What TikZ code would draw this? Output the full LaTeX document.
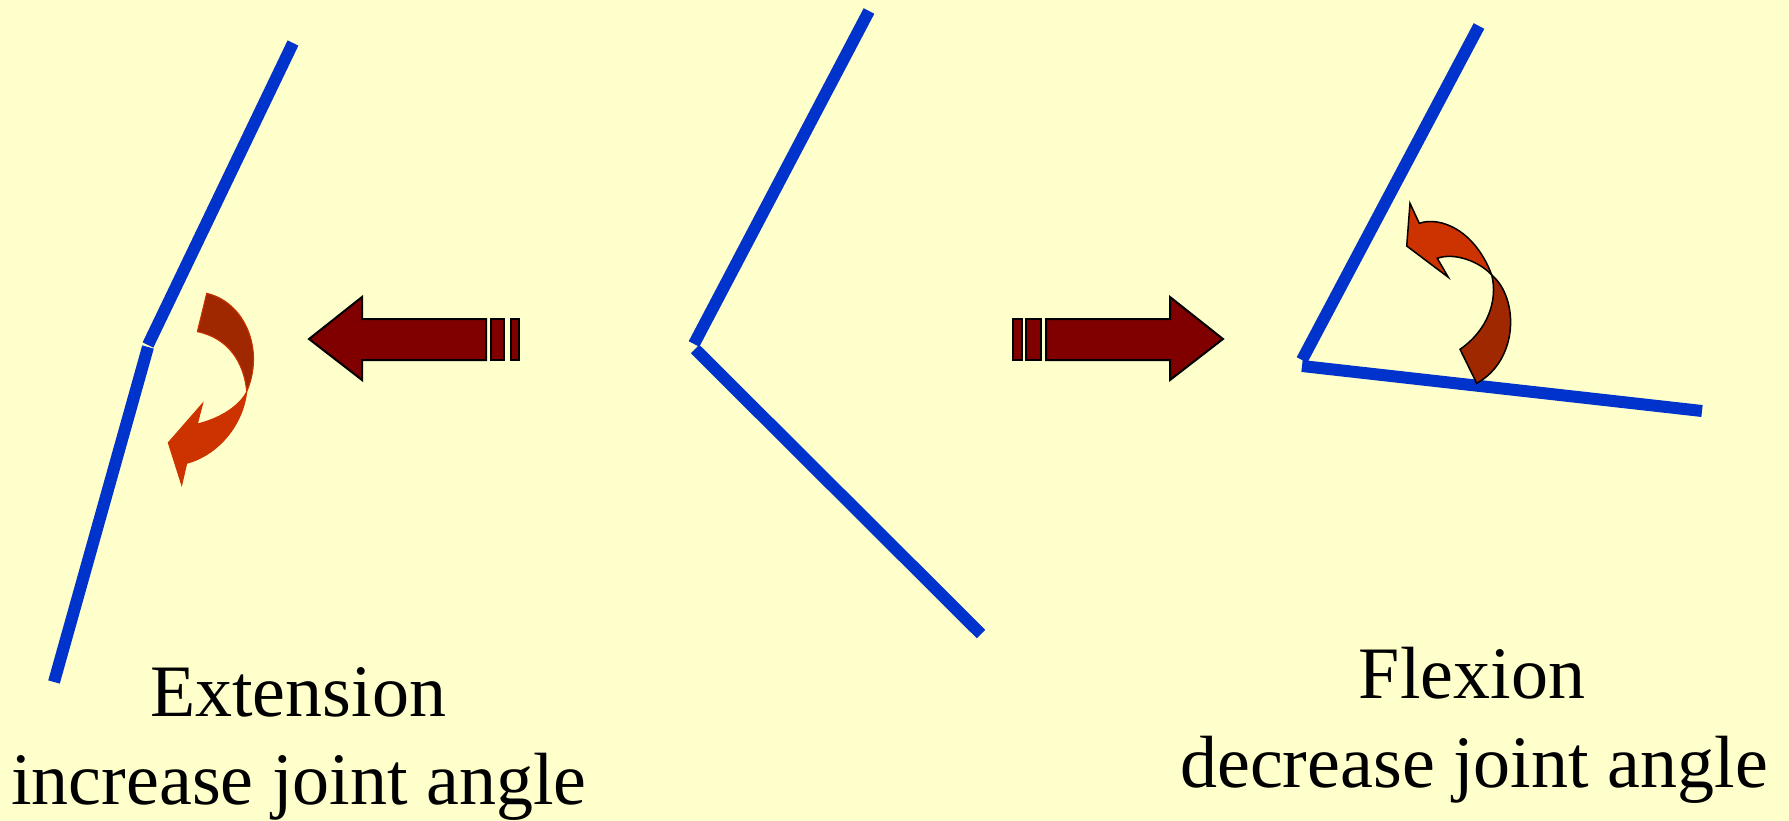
\documentclass[tikz,border=0pt]{standalone}
\usepackage{fontspec}
\setmainfont{Liberation Serif}
\definecolor{paper}{HTML}{FFFFCC}
\definecolor{bone}{HTML}{0033CC}
\definecolor{shaft}{HTML}{800000}
\definecolor{turnlight}{HTML}{CC3300}
\definecolor{turndark}{HTML}{A02800}
\tikzset{
  limb/.style={bone,line width=12pt},
  blockarrow/.style={fill=shaft,draw=black,line width=2pt,line join=miter},
  caption/.style={font=\fontsize{74}{88}\selectfont,anchor=base,inner sep=0pt},
}

\begin{document}
\begin{tikzpicture}[x=1pt,y=-1pt]
\path[use as bounding box,fill=paper] (0,0) rectangle (1789,821);
% limbs: extended, neutral, flexed
\draw[limb] (293,43) -- (148,345);
\draw[limb] (148,347) -- (54,682);
\draw[limb] (869,11) -- (694,344);
\draw[limb] (695,349) -- (981,634);
\draw[limb] (1479,26) -- (1302,360);
\draw[limb] (1302,366) -- (1702,411);
% block arrows
\draw[blockarrow] (309,339) -- (362,297) -- (362,319) -- (486,319) -- (486,360) -- (362,360) -- (362,380) -- cycle;
\draw[blockarrow] (491,319) rectangle (504,360);
\draw[blockarrow] (511,319) rectangle (519,360);
\draw[blockarrow] (1013,319) rectangle (1022,360);
\draw[blockarrow] (1026,319) rectangle (1041,360);
\draw[blockarrow] (1046,319) -- (1170,319) -- (1170,297) -- (1223,339) -- (1170,380) -- (1170,360) -- (1046,360) -- cycle;
% curved arrow, extension
\filldraw[fill=turndark,draw=turnlight,line width=1pt] (206.7,293.3) .. controls (245,302) and (265,350) .. (246.7,391.7)
  .. controls (244,362) and (228,338) .. (197.3,331.7) -- cycle;
\filldraw[fill=turnlight,draw=turnlight,line width=1pt] (246.7,391.7) .. controls (243,425) and (218,455) .. (186.7,463.3)
  -- (181.7,485) -- (168.3,442.7) -- (202.7,403.3) -- (197.3,424)
  .. controls (222,418) and (240,405) .. (246.7,391.7) -- cycle;
% curved arrow, flexion
\filldraw[fill=turndark,draw=black,line width=1.5pt] (1491.7,275) .. controls (1519,298) and (1519,360) .. (1476.7,383.3)
  -- (1460,349.3) .. controls (1488,330) and (1498,300) .. (1491.7,275) -- cycle;
\filldraw[fill=turnlight,draw=black,line width=1.5pt] (1419.3,223.3) .. controls (1440,216) and (1475,230) .. (1491.7,275)
  .. controls (1480,262) and (1455,252) .. (1437.3,258.3) -- (1448.3,277.3) -- (1406.7,246) -- (1410,203.3) -- cycle;
% captions
\node[caption] (exttitle) at (298,716) {Extension};
\node[caption] (extnote) at (299,804) {increase joint angle};
\node[caption] (flextitle) at (1472,698) {Flexion};
\node[caption] (flexnote) at (1474,787) {decrease joint angle};
\end{tikzpicture}
\end{document}
